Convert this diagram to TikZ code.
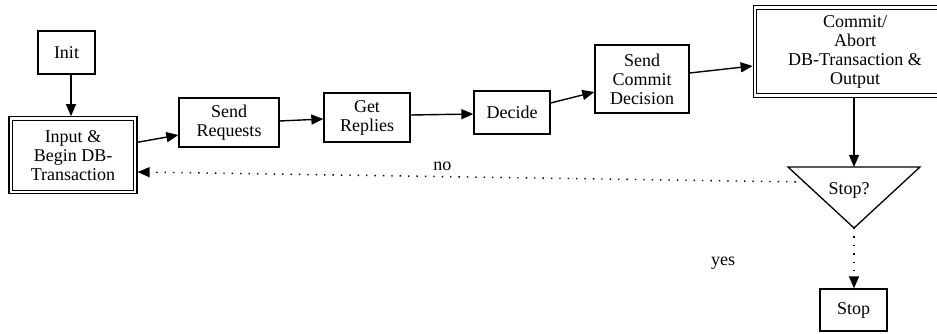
\documentclass[tikz,border=0pt]{standalone}
\usepackage{fontspec}
\setmainfont{Liberation Serif}
\newfontfamily\boxfont{Liberation Serif}
\usetikzlibrary{arrows.meta,calc}
\begin{document}
\begin{tikzpicture}[x=1pt,y=-1pt,
  every node/.style={font=\boxfont\fontsize{18}{19}\selectfont},
  box/.style={draw, line width=1.3pt, inner sep=0pt, align=center},
  dblbox/.style={draw, line width=1.2pt, double=white, double distance=2.3pt,
    inner sep=0pt, outer sep=2.35pt, align=center},
  arr/.style={line width=1.4pt, -{Triangle[length=12pt,width=10pt]}},
  dots/.style={line width=1.4pt, dash pattern=on 1.4pt off 7pt},
]
\clip (0,0) rectangle (937,334);

% process steps
\node[box, minimum width=57pt, minimum height=43pt] (init) at (66.5,52.5) {Init};
\node[dblbox, minimum width=124.5pt, minimum height=73.5pt] (input) at (73,155.25)
  {Input \&\\Begin DB-\\Transaction};
\node[box, minimum width=100pt, minimum height=49pt] (sr) at (229,122.5) {Send\\Requests};
\node[box, minimum width=86pt, minimum height=49pt] (gr) at (367,117.5) {Get\\Replies};
\node[box, minimum width=76pt, minimum height=43pt] (dec) at (512,112.5) {Decide};
\node[box, minimum width=94pt, minimum height=68pt] (scd) at (642,79) {Send\\Commit\\Decision};
\node[dblbox, minimum width=200pt, minimum height=88pt] (commit) at (855,51.5)
  {Commit/\\Abort\\DB-Transaction \&\\Output};

% decision triangle
\coordinate (tl) at (788,167);
\coordinate (tr) at (920,167);
\coordinate (tb) at (854,228);
\coordinate (tt) at (854,167);
\draw[line width=1.3pt, line join=miter] (tl) -- (tr) -- (tb) -- cycle;
\node (stopq) at (849,190) {Stop?};

\node[box, minimum width=67pt, minimum height=42pt] (stop) at (853.5,310) {Stop};
\node (yes) at (723,263) {yes};

% connectors
\draw[arr] ([xshift=4.5pt]init.south) -- ([xshift=4.5pt]init.south |- input.north);
\draw[arr] ([yshift=13pt]input.east) -- ([yshift=-12.5pt]sr.west);
\draw[arr] ([yshift=1.5pt]sr.east) -- ([yshift=-1.5pt]gr.west);
\draw[arr] ([yshift=2.5pt]gr.east) -- ([yshift=-1.5pt]dec.west);
\draw[arr] ([yshift=9.5pt]dec.east) -- ([yshift=-13pt]scd.west);
\draw[arr] ([yshift=6pt]scd.east) -- ([yshift=-14.5pt]commit.west);
\draw[arr] (commit.south -| tt) -- (tt);
\draw[dots, arr] (tb) -- (stop.north -| tb);
\draw[dots, arr] ($(tl)!0.246!(tb)$) -- ([yshift=-16.75pt]input.east)
  node[pos=0.543, anchor=base, yshift=6.5pt] (no) {no};
\end{tikzpicture}
\end{document}
